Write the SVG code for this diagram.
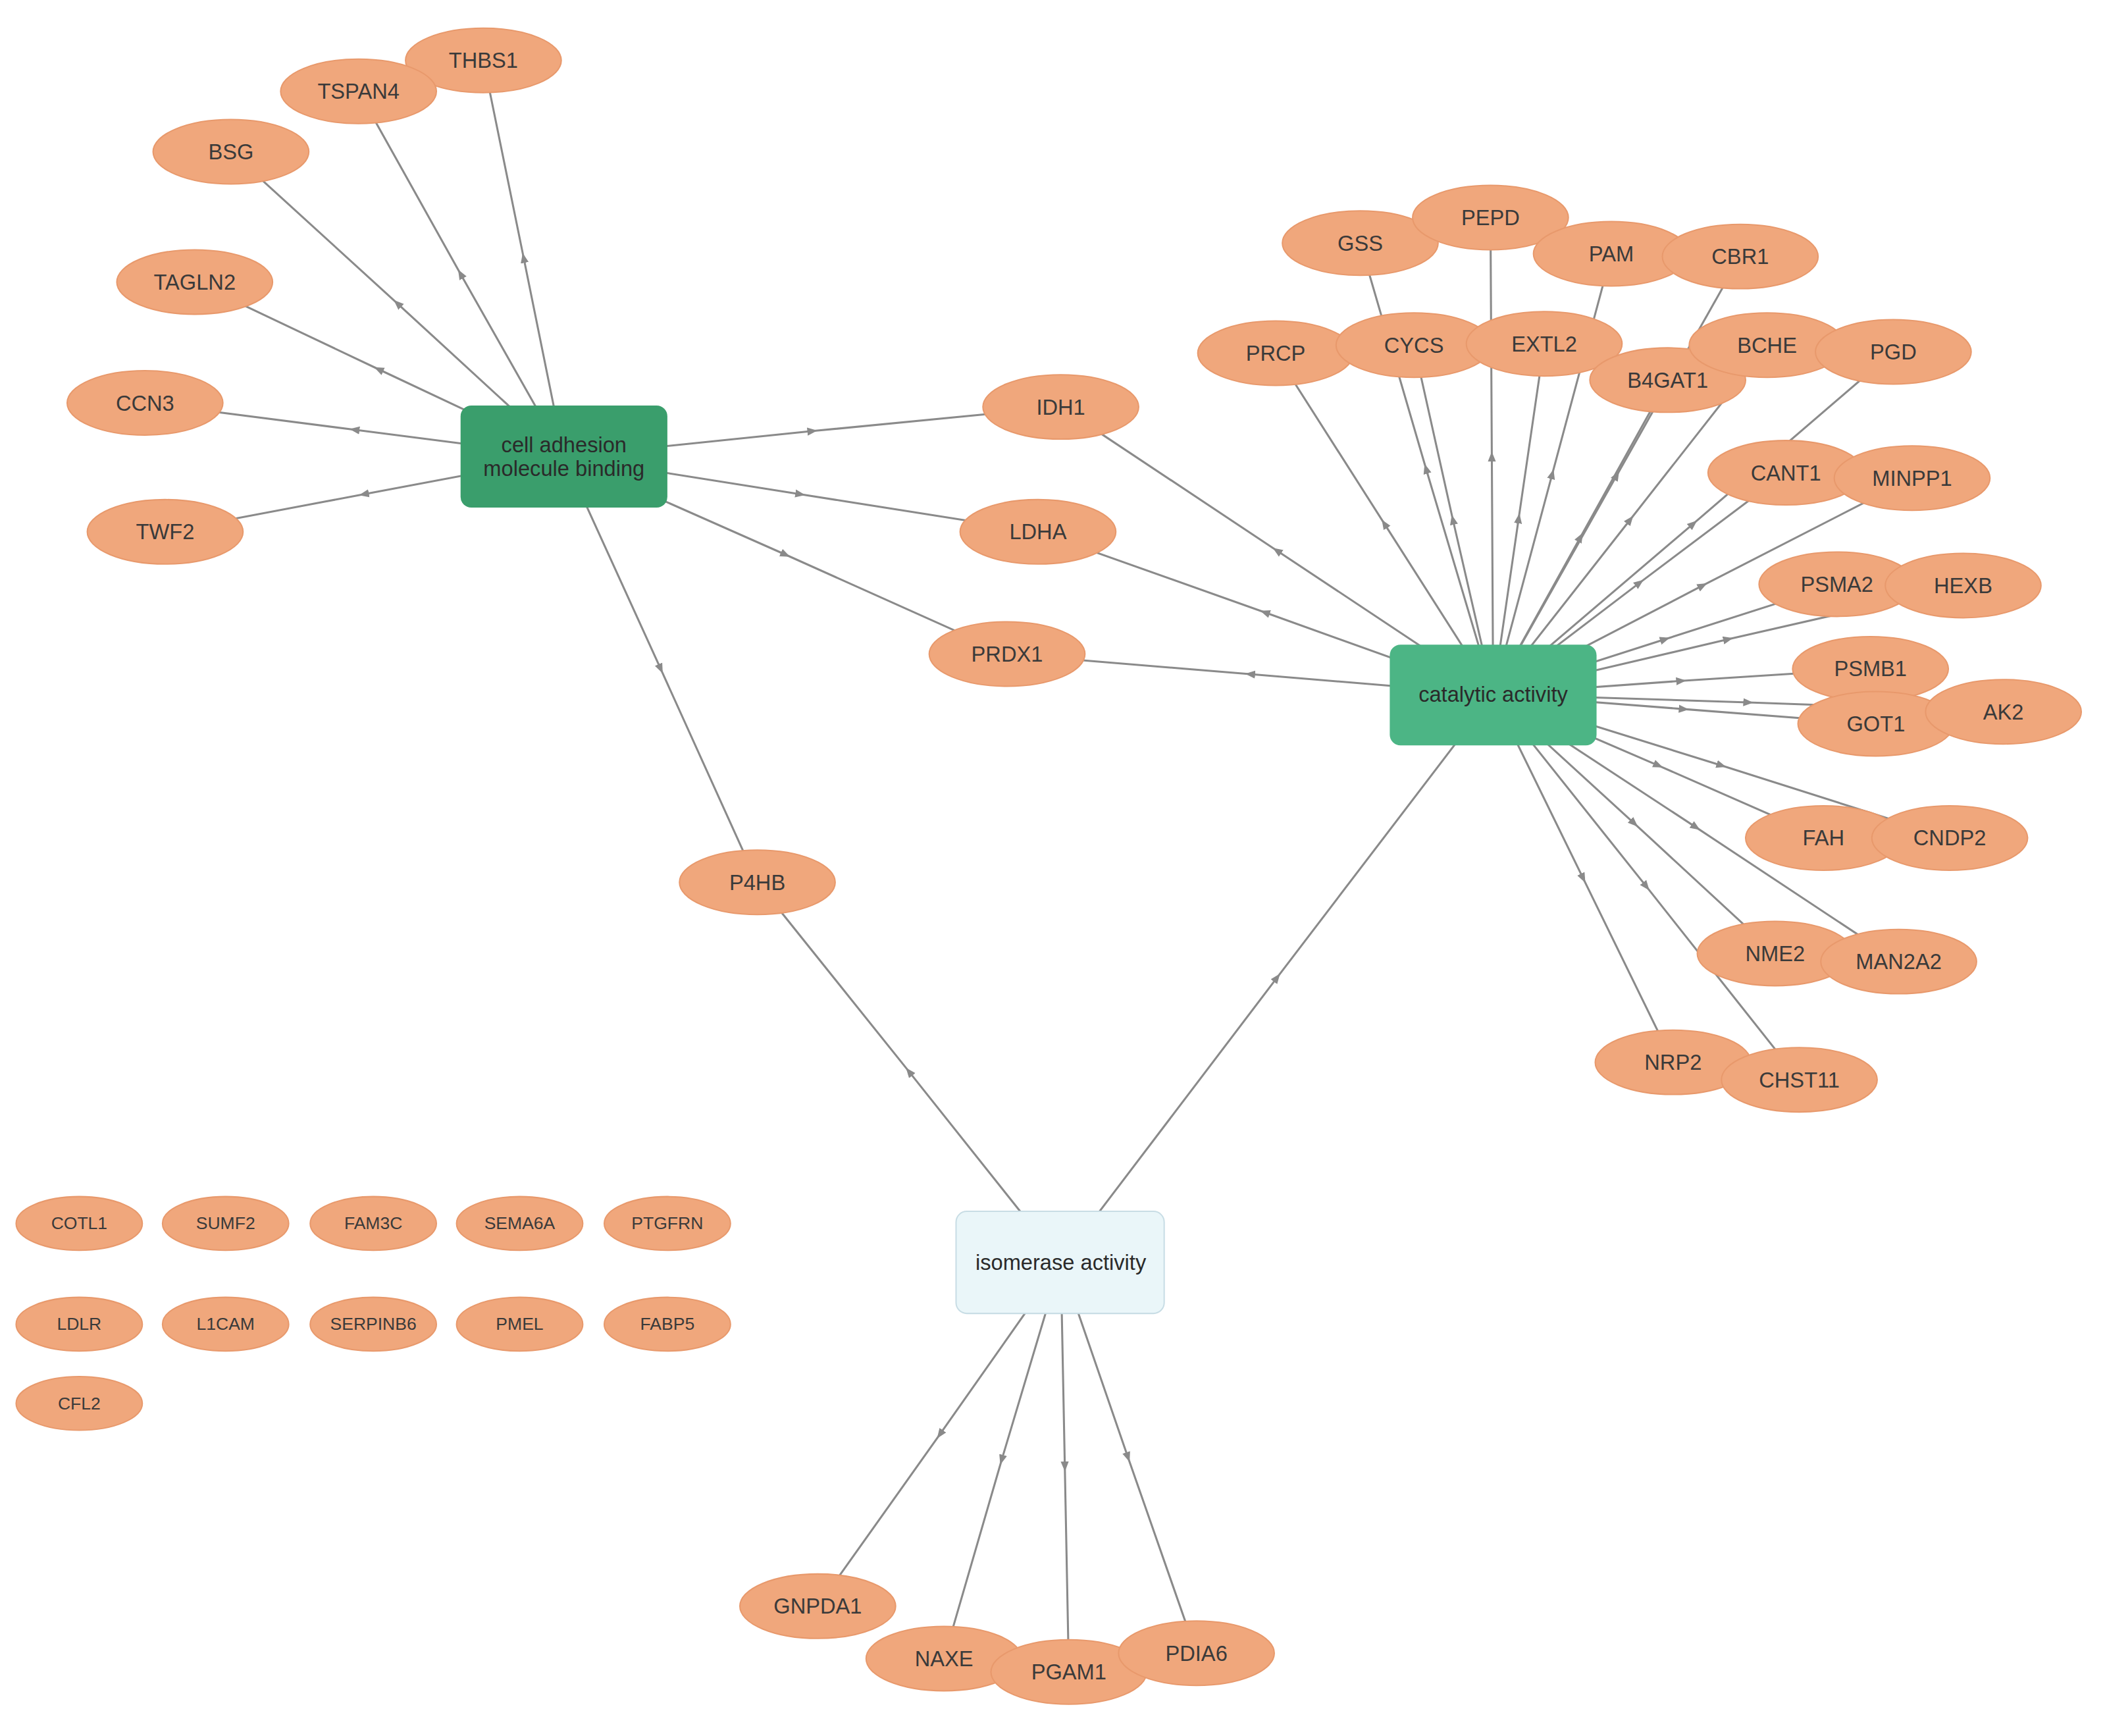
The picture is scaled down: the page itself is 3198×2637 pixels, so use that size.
<svg xmlns="http://www.w3.org/2000/svg" width="3198" height="2637" viewBox="0 0 3198 2637">
<style>
.n ellipse{fill:#f0a77c;stroke:#e8996c;stroke-width:1}
.n text{font-family:"Liberation Sans",Arial,sans-serif;font-size:16px;fill:#3a3a3a;text-anchor:middle;dominant-baseline:central}
.s text{font-size:13px}
.e path{stroke:#8a8a8a;stroke-width:1.5;fill:none;marker-mid:url(#a)}
.h text{font-family:"Liberation Sans",Arial,sans-serif;font-size:16px;fill:#2a2a2a;text-anchor:middle;dominant-baseline:central}
</style>
<defs><marker id="a" viewBox="0 0 10 10" refX="5" refY="5" markerWidth="5" markerHeight="5" orient="auto"><path d="M0,1L10,5L0,9z" fill="#8a8a8a"/></marker></defs>
<rect width="3198" height="2637" fill="#fff"/>
<g transform="scale(2.04)">
<g class="e">
<path d="M420,340L390,192L360,45"/><path d="M420,340L343,204L267,68"/><path d="M420,340L296,226L172,113"/><path d="M420,340L282,275L145,210"/><path d="M420,340L264,320L108,300"/><path d="M420,340L271,368L123,396"/><path d="M420,340L605,321L790,303"/><path d="M420,340L596,368L773,396"/><path d="M420,340L585,413L750,487"/><path d="M420,340L492,498L564,657"/>
<path d="M1112,517L951,410L790,303"/><path d="M1112,517L942,456L773,396"/><path d="M1112,517L931,502L750,487"/>
<path d="M1112,517L1062,349L1013,181"/><path d="M1112,517L1111,340L1110,162"/><path d="M1112,517L1156,353L1200,189"/><path d="M1112,517L1204,354L1296,191"/><path d="M1112,517L1031,390L950,263"/><path d="M1112,517L1082,387L1053,257"/><path d="M1112,517L1131,386L1150,256"/><path d="M1112,517L1177,400L1242,283"/><path d="M1112,517L1214,387L1316,257"/><path d="M1112,517L1261,390L1410,262"/><path d="M1112,517L1221,434L1330,352"/><path d="M1112,517L1268,436L1424,356"/><path d="M1112,517L1240,476L1368,435"/><path d="M1112,517L1287,476L1462,436"/><path d="M1112,517L1252,507L1393,498"/><path d="M1112,517L1254,528L1397,539"/><path d="M1112,517L1302,523L1492,530"/><path d="M1112,517L1235,570L1358,624"/><path d="M1112,517L1282,570L1452,624"/><path d="M1112,517L1217,613L1322,710"/><path d="M1112,517L1263,616L1414,716"/><path d="M1112,517L1179,654L1246,791"/><path d="M1112,517L1226,660L1340,804"/>
<path d="M790,940L951,728L1112,517"/><path d="M790,940L677,798L564,657"/><path d="M790,940L700,1068L609,1196"/><path d="M790,940L746,1087L703,1235"/><path d="M790,940L793,1092L796,1245"/><path d="M790,940L840,1085L891,1231"/>
</g>
<g id="hub-cell" class="h"><rect x="343" y="302" width="154" height="76" rx="8" fill="#3a9e6c"/><text x="420" y="331">cell adhesion</text><text x="420" y="349">molecule binding</text></g>
<g id="hub-cat" class="h"><rect x="1035" y="480" width="154" height="75" rx="8" fill="#4cb585"/><text x="1112" y="517">catalytic activity</text></g>
<g id="hub-iso" class="h"><rect x="712" y="902" width="155" height="76" rx="8" fill="#eaf6f9" stroke="#c8dde5"/><text x="790" y="940">isomerase activity</text></g>
<g id="THBS1" class="n"><ellipse cx="360" cy="45" rx="58" ry="24"/><text x="360" y="45">THBS1</text></g>
<g id="TSPAN4" class="n"><ellipse cx="267" cy="68" rx="58" ry="24"/><text x="267" y="68">TSPAN4</text></g>
<g id="BSG" class="n"><ellipse cx="172" cy="113" rx="58" ry="24"/><text x="172" y="113">BSG</text></g>
<g id="TAGLN2" class="n"><ellipse cx="145" cy="210" rx="58" ry="24"/><text x="145" y="210">TAGLN2</text></g>
<g id="CCN3" class="n"><ellipse cx="108" cy="300" rx="58" ry="24"/><text x="108" y="300">CCN3</text></g>
<g id="TWF2" class="n"><ellipse cx="123" cy="396" rx="58" ry="24"/><text x="123" y="396">TWF2</text></g>
<g id="IDH1" class="n"><ellipse cx="790" cy="303" rx="58" ry="24"/><text x="790" y="303">IDH1</text></g>
<g id="LDHA" class="n"><ellipse cx="773" cy="396" rx="58" ry="24"/><text x="773" y="396">LDHA</text></g>
<g id="PRDX1" class="n"><ellipse cx="750" cy="487" rx="58" ry="24"/><text x="750" y="487">PRDX1</text></g>
<g id="P4HB" class="n"><ellipse cx="564" cy="657" rx="58" ry="24"/><text x="564" y="657">P4HB</text></g>
<g id="GSS" class="n"><ellipse cx="1013" cy="181" rx="58" ry="24"/><text x="1013" y="181">GSS</text></g>
<g id="PEPD" class="n"><ellipse cx="1110" cy="162" rx="58" ry="24"/><text x="1110" y="162">PEPD</text></g>
<g id="PAM" class="n"><ellipse cx="1200" cy="189" rx="58" ry="24"/><text x="1200" y="189">PAM</text></g>
<g id="CBR1" class="n"><ellipse cx="1296" cy="191" rx="58" ry="24"/><text x="1296" y="191">CBR1</text></g>
<g id="PRCP" class="n"><ellipse cx="950" cy="263" rx="58" ry="24"/><text x="950" y="263">PRCP</text></g>
<g id="CYCS" class="n"><ellipse cx="1053" cy="257" rx="58" ry="24"/><text x="1053" y="257">CYCS</text></g>
<g id="EXTL2" class="n"><ellipse cx="1150" cy="256" rx="58" ry="24"/><text x="1150" y="256">EXTL2</text></g>
<g id="B4GAT1" class="n"><ellipse cx="1242" cy="283" rx="58" ry="24"/><text x="1242" y="283">B4GAT1</text></g>
<g id="BCHE" class="n"><ellipse cx="1316" cy="257" rx="58" ry="24"/><text x="1316" y="257">BCHE</text></g>
<g id="PGD" class="n"><ellipse cx="1410" cy="262" rx="58" ry="24"/><text x="1410" y="262">PGD</text></g>
<g id="CANT1" class="n"><ellipse cx="1330" cy="352" rx="58" ry="24"/><text x="1330" y="352">CANT1</text></g>
<g id="MINPP1" class="n"><ellipse cx="1424" cy="356" rx="58" ry="24"/><text x="1424" y="356">MINPP1</text></g>
<g id="PSMA2" class="n"><ellipse cx="1368" cy="435" rx="58" ry="24"/><text x="1368" y="435">PSMA2</text></g>
<g id="HEXB" class="n"><ellipse cx="1462" cy="436" rx="58" ry="24"/><text x="1462" y="436">HEXB</text></g>
<g id="PSMB1" class="n"><ellipse cx="1393" cy="498" rx="58" ry="24"/><text x="1393" y="498">PSMB1</text></g>
<g id="GOT1" class="n"><ellipse cx="1397" cy="539" rx="58" ry="24"/><text x="1397" y="539">GOT1</text></g>
<g id="AK2" class="n"><ellipse cx="1492" cy="530" rx="58" ry="24"/><text x="1492" y="530">AK2</text></g>
<g id="FAH" class="n"><ellipse cx="1358" cy="624" rx="58" ry="24"/><text x="1358" y="624">FAH</text></g>
<g id="CNDP2" class="n"><ellipse cx="1452" cy="624" rx="58" ry="24"/><text x="1452" y="624">CNDP2</text></g>
<g id="NME2" class="n"><ellipse cx="1322" cy="710" rx="58" ry="24"/><text x="1322" y="710">NME2</text></g>
<g id="MAN2A2" class="n"><ellipse cx="1414" cy="716" rx="58" ry="24"/><text x="1414" y="716">MAN2A2</text></g>
<g id="NRP2" class="n"><ellipse cx="1246" cy="791" rx="58" ry="24"/><text x="1246" y="791">NRP2</text></g>
<g id="CHST11" class="n"><ellipse cx="1340" cy="804" rx="58" ry="24"/><text x="1340" y="804">CHST11</text></g>
<g id="GNPDA1" class="n"><ellipse cx="609" cy="1196" rx="58" ry="24"/><text x="609" y="1196">GNPDA1</text></g>
<g id="NAXE" class="n"><ellipse cx="703" cy="1235" rx="58" ry="24"/><text x="703" y="1235">NAXE</text></g>
<g id="PGAM1" class="n"><ellipse cx="796" cy="1245" rx="58" ry="24"/><text x="796" y="1245">PGAM1</text></g>
<g id="PDIA6" class="n"><ellipse cx="891" cy="1231" rx="58" ry="24"/><text x="891" y="1231">PDIA6</text></g>
<g id="COTL1" class="n s"><ellipse cx="59" cy="911" rx="47" ry="20"/><text x="59" y="911">COTL1</text></g>
<g id="SUMF2" class="n s"><ellipse cx="168" cy="911" rx="47" ry="20"/><text x="168" y="911">SUMF2</text></g>
<g id="FAM3C" class="n s"><ellipse cx="278" cy="911" rx="47" ry="20"/><text x="278" y="911">FAM3C</text></g>
<g id="SEMA6A" class="n s"><ellipse cx="387" cy="911" rx="47" ry="20"/><text x="387" y="911">SEMA6A</text></g>
<g id="PTGFRN" class="n s"><ellipse cx="497" cy="911" rx="47" ry="20"/><text x="497" y="911">PTGFRN</text></g>
<g id="LDLR" class="n s"><ellipse cx="59" cy="986" rx="47" ry="20"/><text x="59" y="986">LDLR</text></g>
<g id="L1CAM" class="n s"><ellipse cx="168" cy="986" rx="47" ry="20"/><text x="168" y="986">L1CAM</text></g>
<g id="SERPINB6" class="n s"><ellipse cx="278" cy="986" rx="47" ry="20"/><text x="278" y="986">SERPINB6</text></g>
<g id="PMEL" class="n s"><ellipse cx="387" cy="986" rx="47" ry="20"/><text x="387" y="986">PMEL</text></g>
<g id="FABP5" class="n s"><ellipse cx="497" cy="986" rx="47" ry="20"/><text x="497" y="986">FABP5</text></g>
<g id="CFL2" class="n s"><ellipse cx="59" cy="1045" rx="47" ry="20"/><text x="59" y="1045">CFL2</text></g>
</g>
</svg>
